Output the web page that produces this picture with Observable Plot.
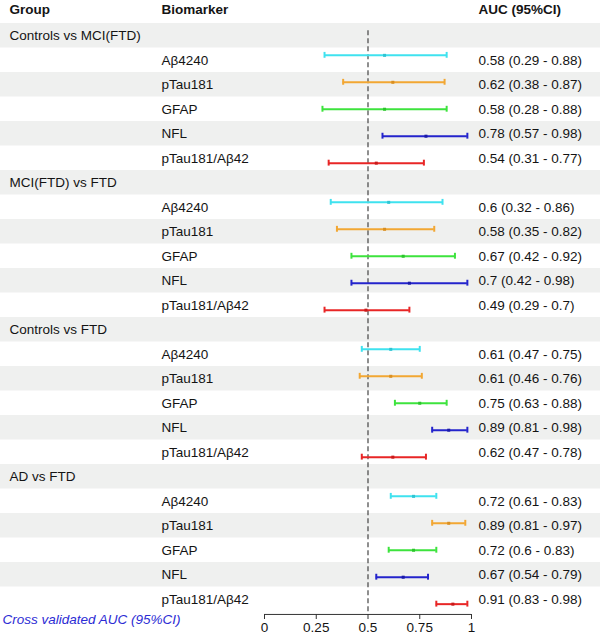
<!DOCTYPE html>
<html>
<head>
<meta charset="utf-8">
<script src="https://cdn.jsdelivr.net/npm/d3@7"></script>
<script src="https://cdn.jsdelivr.net/npm/@observablehq/plot@0.6"></script>
<style>
  html, body { margin: 0; padding: 0; background: #ffffff; }
  #chart svg { display: block; }
</style>
</head>
<body>
<div id="chart"></div>
<script>
// ---- data ----
const groups = ["Controls vs MCI(FTD)", "MCI(FTD) vs FTD", "Controls vs FTD", "AD vs FTD"];
const biomarkers = ["Aβ4240", "pTau181", "GFAP", "NFL", "pTau181/Aβ42"];
const biomarkerColors = ["#3fe2ef", "#f2a733", "#3de33d", "#2424cc", "#e82626"];
const pointColors = ["#2fc4d2", "#d98f22", "#2cc42c", "#1a1aa8", "#c81a1a"];
const auc   = [[0.58, 0.62, 0.58, 0.78, 0.54],
               [0.6,  0.58, 0.67, 0.7,  0.49],
               [0.61, 0.61, 0.75, 0.89, 0.62],
               [0.72, 0.89, 0.72, 0.67, 0.91]];
const lower = [[0.29, 0.38, 0.28, 0.57, 0.31],
               [0.32, 0.35, 0.42, 0.42, 0.29],
               [0.47, 0.46, 0.63, 0.81, 0.47],
               [0.61, 0.81, 0.6,  0.54, 0.83]];
const upper = [[0.88, 0.87, 0.88, 0.98, 0.77],
               [0.86, 0.82, 0.92, 0.98, 0.7],
               [0.75, 0.76, 0.88, 0.98, 0.78],
               [0.83, 0.97, 0.83, 0.79, 0.98]];
const xTicks = [0, 0.25, 0.5, 0.75, 1];
const headers = ["Group", "Biomarker", "AUC (95%CI)"];
const captionText = "Cross validated AUC (95%CI)";
const referenceAUC = 0.5;

// ---- table rows built from the arrays ----
const rows = [];
let idx = 0;
groups.forEach((g, gi) => {
  rows.push({type: "group", row: idx++, label: g});
  biomarkers.forEach((b, k) => {
    rows.push({
      type: "bm", row: idx++, k, group: g, biomarker: b,
      auc: auc[gi][k], lo: lower[gi][k], hi: upper[gi][k],
      color: biomarkerColors[k], pcolor: pointColors[k],
      text: `${auc[gi][k]} (${lower[gi][k]} - ${upper[gi][k]})`
    });
  });
});
const groupRows = rows.filter(r => r.type === "group");
const bmRows = rows.filter(r => r.type === "bm");
const shaded = rows.filter(r => r.row % 2 === 0);

// layout constants (in row units)
const nRows = rows.length;
const barSpread = 0.1;
const capHalf = 0.12;
const dashTop = -0.2;
const axisRow = nRows - 0.38;
const barY = d => d.row + (d.k - 2) * barSpread;

const colX = [9, 161, 478]; // text column offsets (px) for group / biomarker / AUC
const font = "'Liberation Sans', Arial, Helvetica, sans-serif";
const textColor = "#141414";

const headerMarks = headers.map((h, i) =>
  Plot.text([h], {y: -1, text: d => d, frameAnchor: "left", dx: colX[i], dy: -2,
    textAnchor: "start", fontWeight: "bold", fill: textColor}));

const chart = Plot.plot({
  width: 600,
  height: 636,
  marginTop: 0,
  marginLeft: 0,
  marginRight: 0,
  marginBottom: 22,
  x: {domain: [0, 1], range: [264, 471]},
  y: {domain: [-1, nRows - 1], range: [10.75, 598.75], axis: null},
  style: {fontFamily: font, fontSize: "13.5px", color: textColor, background: "#ffffff"},
  marks: [
    Plot.rect(shaded, {y1: d => d.row - 0.5, y2: d => d.row + 0.5, fill: "#eff0ef"}),
    Plot.ruleX([referenceAUC], {x: d => d, y1: dashTop, y2: axisRow, stroke: "#333333", strokeWidth: 1.1, strokeDasharray: "5,3"}),
    Plot.ruleY([axisRow], {x1: 0, x2: 1, stroke: "#333333", strokeWidth: 1}),
    Plot.axisX({ticks: xTicks, tickSize: 5, tickPadding: 3, tickFormat: d => String(d), label: null, stroke: "#333333", fill: textColor, fontSize: 13.5}),
    ...headerMarks,
    // group labels
    Plot.text(groupRows, {y: "row", text: "label", frameAnchor: "left", dx: colX[0], textAnchor: "start", fill: textColor}),
    // biomarker labels
    Plot.text(bmRows, {y: "row", text: "biomarker", frameAnchor: "left", dx: colX[1], textAnchor: "start", fill: textColor}),
    // AUC text
    Plot.text(bmRows, {y: "row", text: "text", frameAnchor: "left", dx: colX[2], textAnchor: "start", fill: textColor}),
    // CI bars
    Plot.ruleY(bmRows, {y: barY, x1: "lo", x2: "hi", stroke: "color", strokeWidth: 2}),
    Plot.ruleX(bmRows, {x: "lo", y1: d => barY(d) - capHalf, y2: d => barY(d) + capHalf, stroke: "color", strokeWidth: 2}),
    Plot.ruleX(bmRows, {x: "hi", y1: d => barY(d) - capHalf, y2: d => barY(d) + capHalf, stroke: "color", strokeWidth: 2}),
    Plot.dot(bmRows, {x: "auc", y: barY, symbol: "square", r: 1.7, fill: "pcolor", stroke: null}),
    // caption
    Plot.text([captionText], {frameAnchor: "bottom-left", dx: 2, dy: 5, lineAnchor: "middle", textAnchor: "start",
      text: d => d, fontStyle: "italic", fill: "#2c2cd4"})
  ]
});

document.getElementById("chart").append(chart);
</script>
</body>
</html>
